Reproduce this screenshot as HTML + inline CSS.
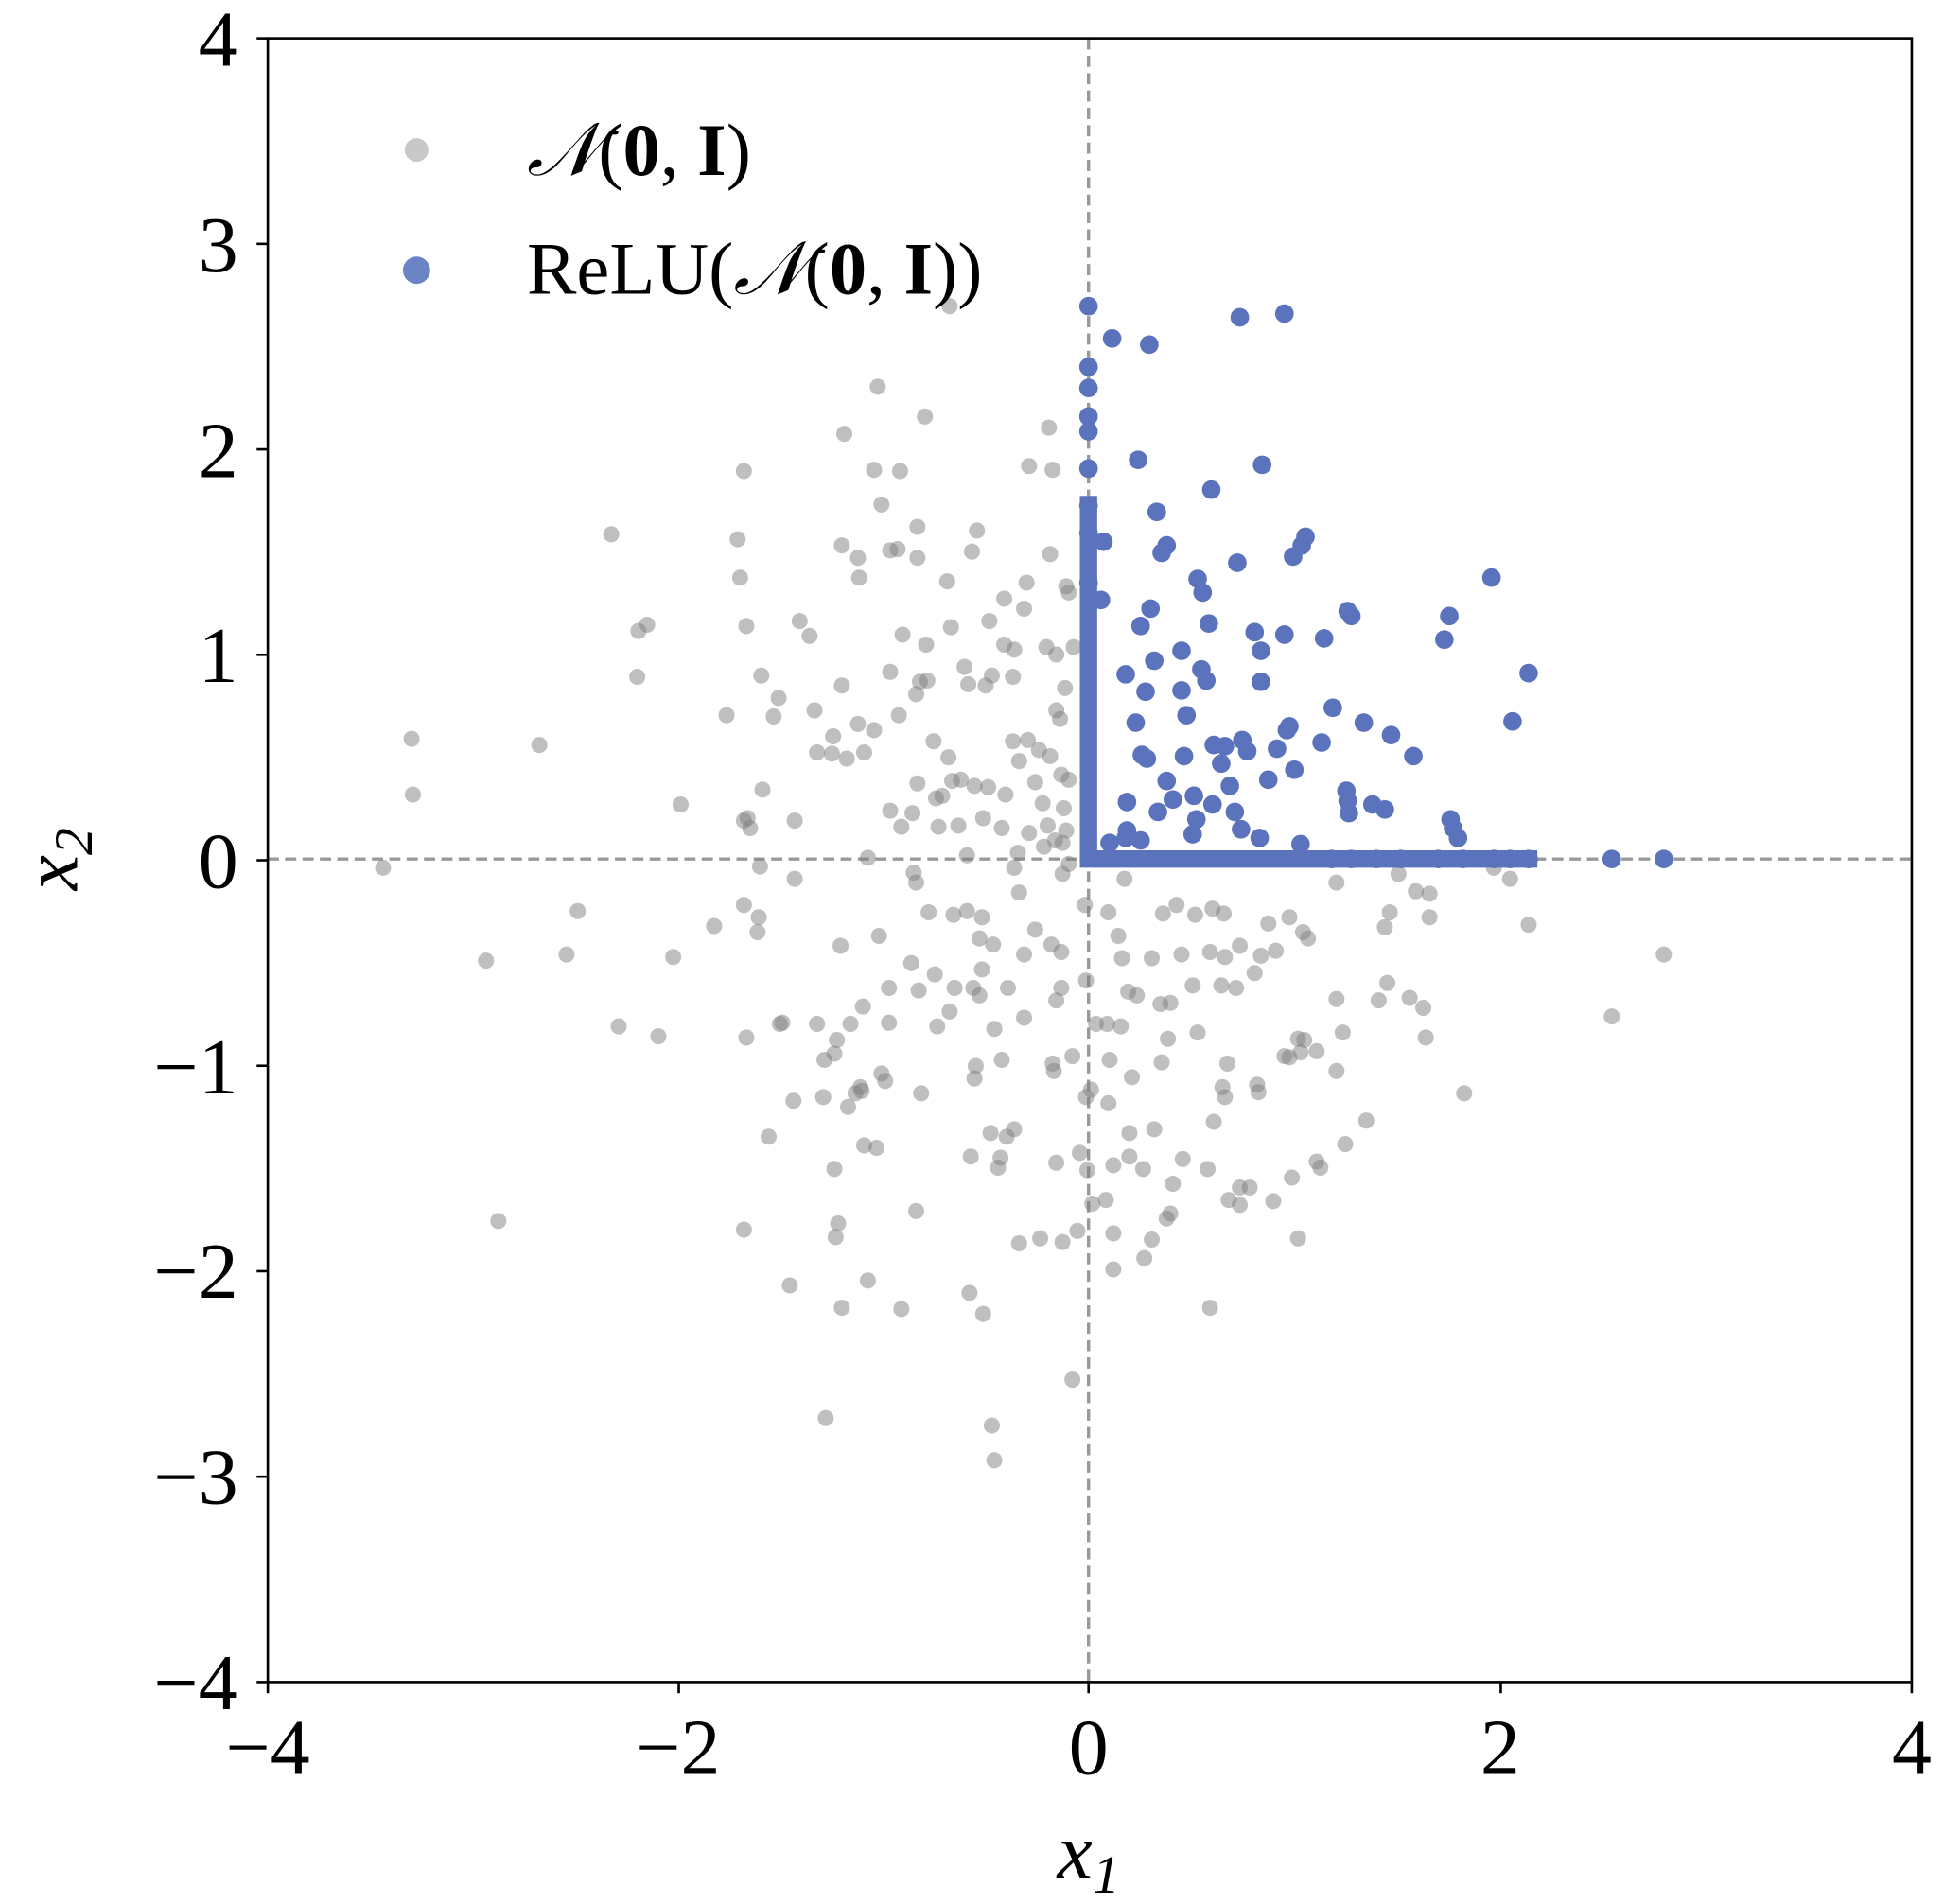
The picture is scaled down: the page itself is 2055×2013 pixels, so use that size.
<!DOCTYPE html>
<html><head><meta charset="utf-8"><style>html,body{margin:0;padding:0;background:#fff}svg{display:block}</style></head>
<body>
<svg width="2055" height="2013" viewBox="0 0 1568 1536" preserveAspectRatio="none" xmlns="http://www.w3.org/2000/svg" font-family="'Liberation Serif',serif">
<rect width="1568" height="1536" fill="#fff"/>
<line x1="878" y1="31" x2="878" y2="1357" stroke="#999" stroke-width="2.6" stroke-dasharray="9,5"/>
<line x1="216" y1="693" x2="1542" y2="693" stroke="#999" stroke-width="2.6" stroke-dasharray="9,5"/>
<g fill="#808080" fill-opacity="0.5">
<circle cx="766" cy="247" r="6.5"/><circle cx="708" cy="312" r="6.5"/><circle cx="746" cy="336" r="6.5"/><circle cx="681" cy="350" r="6.5"/><circle cx="846" cy="345" r="6.5"/><circle cx="726" cy="380" r="6.5"/><circle cx="705" cy="379" r="6.5"/><circle cx="600" cy="380" r="6.5"/><circle cx="830" cy="376" r="6.5"/><circle cx="849" cy="379" r="6.5"/><circle cx="493" cy="431" r="6.5"/><circle cx="711" cy="407" r="6.5"/><circle cx="740" cy="425" r="6.5"/><circle cx="595" cy="435" r="6.5"/><circle cx="679" cy="440" r="6.5"/><circle cx="718" cy="444" r="6.5"/><circle cx="724" cy="443" r="6.5"/><circle cx="788" cy="428" r="6.5"/><circle cx="784" cy="445" r="6.5"/><circle cx="692" cy="450" r="6.5"/><circle cx="740" cy="450" r="6.5"/><circle cx="847" cy="447" r="6.5"/><circle cx="597" cy="466" r="6.5"/><circle cx="764" cy="469" r="6.5"/><circle cx="693" cy="466" r="6.5"/><circle cx="860" cy="473" r="6.5"/><circle cx="862" cy="478" r="6.5"/><circle cx="828" cy="470" r="6.5"/><circle cx="810" cy="483" r="6.5"/><circle cx="826" cy="491" r="6.5"/><circle cx="645" cy="501" r="6.5"/><circle cx="653" cy="513" r="6.5"/><circle cx="522" cy="504" r="6.5"/><circle cx="515" cy="509" r="6.5"/><circle cx="602" cy="505" r="6.5"/><circle cx="767" cy="506" r="6.5"/><circle cx="798" cy="501" r="6.5"/><circle cx="728" cy="512" r="6.5"/><circle cx="844" cy="522" r="6.5"/><circle cx="866" cy="522" r="6.5"/><circle cx="810" cy="520" r="6.5"/><circle cx="818" cy="524" r="6.5"/><circle cx="747" cy="520" r="6.5"/><circle cx="852" cy="528" r="6.5"/><circle cx="778" cy="538" r="6.5"/><circle cx="748" cy="549" r="6.5"/><circle cx="817" cy="546" r="6.5"/><circle cx="800" cy="545" r="6.5"/><circle cx="679" cy="553" r="6.5"/><circle cx="718" cy="542" r="6.5"/><circle cx="514" cy="546" r="6.5"/><circle cx="614" cy="545" r="6.5"/><circle cx="628" cy="563" r="6.5"/><circle cx="742" cy="550" r="6.5"/><circle cx="739" cy="560" r="6.5"/><circle cx="859" cy="555" r="6.5"/><circle cx="795" cy="553" r="6.5"/><circle cx="781" cy="552" r="6.5"/><circle cx="624" cy="578" r="6.5"/><circle cx="586" cy="577" r="6.5"/><circle cx="657" cy="573" r="6.5"/><circle cx="692" cy="584" r="6.5"/><circle cx="705" cy="589" r="6.5"/><circle cx="725" cy="577" r="6.5"/><circle cx="852" cy="573" r="6.5"/><circle cx="855" cy="580" r="6.5"/><circle cx="332" cy="596" r="6.5"/><circle cx="435" cy="601" r="6.5"/><circle cx="672" cy="594" r="6.5"/><circle cx="753" cy="598" r="6.5"/><circle cx="765" cy="611" r="6.5"/><circle cx="829" cy="597" r="6.5"/><circle cx="817" cy="598" r="6.5"/><circle cx="697" cy="607" r="6.5"/><circle cx="822" cy="614" r="6.5"/><circle cx="838" cy="605" r="6.5"/><circle cx="847" cy="610" r="6.5"/><circle cx="659" cy="607" r="6.5"/><circle cx="671" cy="608" r="6.5"/><circle cx="683" cy="612" r="6.5"/><circle cx="856" cy="625" r="6.5"/><circle cx="862" cy="629" r="6.5"/><circle cx="768" cy="630" r="6.5"/><circle cx="775" cy="629" r="6.5"/><circle cx="786" cy="634" r="6.5"/><circle cx="760" cy="642" r="6.5"/><circle cx="797" cy="635" r="6.5"/><circle cx="811" cy="641" r="6.5"/><circle cx="835" cy="631" r="6.5"/><circle cx="333" cy="641" r="6.5"/><circle cx="615" cy="637" r="6.5"/><circle cx="740" cy="632" r="6.5"/><circle cx="755" cy="644" r="6.5"/><circle cx="736" cy="656" r="6.5"/><circle cx="841" cy="648" r="6.5"/><circle cx="858" cy="652" r="6.5"/><circle cx="549" cy="649" r="6.5"/><circle cx="641" cy="662" r="6.5"/><circle cx="603" cy="660" r="6.5"/><circle cx="605" cy="668" r="6.5"/><circle cx="600" cy="662" r="6.5"/><circle cx="718" cy="654" r="6.5"/><circle cx="727" cy="667" r="6.5"/><circle cx="757" cy="667" r="6.5"/><circle cx="773" cy="666" r="6.5"/><circle cx="793" cy="660" r="6.5"/><circle cx="808" cy="668" r="6.5"/><circle cx="845" cy="666" r="6.5"/><circle cx="860" cy="670" r="6.5"/><circle cx="857" cy="680" r="6.5"/><circle cx="842" cy="683" r="6.5"/><circle cx="851" cy="678" r="6.5"/><circle cx="830" cy="672" r="6.5"/><circle cx="780" cy="690" r="6.5"/><circle cx="821" cy="688" r="6.5"/><circle cx="700" cy="692" r="6.5"/><circle cx="309" cy="700" r="6.5"/><circle cx="613" cy="699" r="6.5"/><circle cx="641" cy="709" r="6.5"/><circle cx="737" cy="704" r="6.5"/><circle cx="739" cy="712" r="6.5"/><circle cx="818" cy="700" r="6.5"/><circle cx="862" cy="697" r="6.5"/><circle cx="1205" cy="700" r="6.5"/><circle cx="1218" cy="709" r="6.5"/><circle cx="1078" cy="712" r="6.5"/><circle cx="1128" cy="705" r="6.5"/><circle cx="1142" cy="719" r="6.5"/><circle cx="1153" cy="721" r="6.5"/><circle cx="907" cy="709" r="6.5"/><circle cx="857" cy="705" r="6.5"/><circle cx="466" cy="735" r="6.5"/><circle cx="600" cy="730" r="6.5"/><circle cx="612" cy="740" r="6.5"/><circle cx="576" cy="747" r="6.5"/><circle cx="611" cy="752" r="6.5"/><circle cx="780" cy="735" r="6.5"/><circle cx="792" cy="740" r="6.5"/><circle cx="790" cy="757" r="6.5"/><circle cx="769" cy="738" r="6.5"/><circle cx="749" cy="736" r="6.5"/><circle cx="822" cy="720" r="6.5"/><circle cx="875" cy="730" r="6.5"/><circle cx="894" cy="736" r="6.5"/><circle cx="938" cy="737" r="6.5"/><circle cx="978" cy="733" r="6.5"/><circle cx="987" cy="737" r="6.5"/><circle cx="949" cy="730" r="6.5"/><circle cx="964" cy="738" r="6.5"/><circle cx="1040" cy="740" r="6.5"/><circle cx="1051" cy="752" r="6.5"/><circle cx="1055" cy="757" r="6.5"/><circle cx="1023" cy="745" r="6.5"/><circle cx="1117" cy="748" r="6.5"/><circle cx="1121" cy="736" r="6.5"/><circle cx="1153" cy="740" r="6.5"/><circle cx="1233" cy="746" r="6.5"/><circle cx="457" cy="770" r="6.5"/><circle cx="392" cy="775" r="6.5"/><circle cx="543" cy="772" r="6.5"/><circle cx="678" cy="763" r="6.5"/><circle cx="709" cy="755" r="6.5"/><circle cx="801" cy="762" r="6.5"/><circle cx="826" cy="770" r="6.5"/><circle cx="848" cy="762" r="6.5"/><circle cx="856" cy="768" r="6.5"/><circle cx="835" cy="750" r="6.5"/><circle cx="902" cy="755" r="6.5"/><circle cx="905" cy="773" r="6.5"/><circle cx="929" cy="773" r="6.5"/><circle cx="953" cy="770" r="6.5"/><circle cx="976" cy="768" r="6.5"/><circle cx="988" cy="772" r="6.5"/><circle cx="1029" cy="767" r="6.5"/><circle cx="1017" cy="771" r="6.5"/><circle cx="1000" cy="763" r="6.5"/><circle cx="1342" cy="770" r="6.5"/><circle cx="735" cy="777" r="6.5"/><circle cx="754" cy="786" r="6.5"/><circle cx="792" cy="782" r="6.5"/><circle cx="770" cy="797" r="6.5"/><circle cx="741" cy="799" r="6.5"/><circle cx="717" cy="797" r="6.5"/><circle cx="785" cy="797" r="6.5"/><circle cx="790" cy="803" r="6.5"/><circle cx="813" cy="797" r="6.5"/><circle cx="856" cy="797" r="6.5"/><circle cx="852" cy="807" r="6.5"/><circle cx="876" cy="791" r="6.5"/><circle cx="910" cy="800" r="6.5"/><circle cx="917" cy="803" r="6.5"/><circle cx="936" cy="810" r="6.5"/><circle cx="944" cy="809" r="6.5"/><circle cx="962" cy="795" r="6.5"/><circle cx="985" cy="795" r="6.5"/><circle cx="997" cy="797" r="6.5"/><circle cx="1012" cy="785" r="6.5"/><circle cx="1078" cy="806" r="6.5"/><circle cx="1112" cy="807" r="6.5"/><circle cx="1137" cy="805" r="6.5"/><circle cx="1119" cy="793" r="6.5"/><circle cx="499" cy="828" r="6.5"/><circle cx="631" cy="825" r="6.5"/><circle cx="659" cy="826" r="6.5"/><circle cx="696" cy="812" r="6.5"/><circle cx="686" cy="826" r="6.5"/><circle cx="717" cy="825" r="6.5"/><circle cx="756" cy="828" r="6.5"/><circle cx="766" cy="816" r="6.5"/><circle cx="826" cy="821" r="6.5"/><circle cx="884" cy="826" r="6.5"/><circle cx="893" cy="826" r="6.5"/><circle cx="904" cy="828" r="6.5"/><circle cx="942" cy="838" r="6.5"/><circle cx="966" cy="833" r="6.5"/><circle cx="1083" cy="833" r="6.5"/><circle cx="1300" cy="820" r="6.5"/><circle cx="1148" cy="813" r="6.5"/><circle cx="1150" cy="837" r="6.5"/><circle cx="531" cy="836" r="6.5"/><circle cx="602" cy="837" r="6.5"/><circle cx="629" cy="826" r="6.5"/><circle cx="675" cy="839" r="6.5"/><circle cx="673" cy="850" r="6.5"/><circle cx="665" cy="855" r="6.5"/><circle cx="802" cy="830" r="6.5"/><circle cx="849" cy="858" r="6.5"/><circle cx="850" cy="864" r="6.5"/><circle cx="808" cy="855" r="6.5"/><circle cx="787" cy="860" r="6.5"/><circle cx="865" cy="852" r="6.5"/><circle cx="895" cy="855" r="6.5"/><circle cx="913" cy="869" r="6.5"/><circle cx="990" cy="858" r="6.5"/><circle cx="937" cy="857" r="6.5"/><circle cx="1052" cy="839" r="6.5"/><circle cx="1049" cy="849" r="6.5"/><circle cx="1036" cy="852" r="6.5"/><circle cx="1062" cy="848" r="6.5"/><circle cx="1040" cy="853" r="6.5"/><circle cx="1078" cy="864" r="6.5"/><circle cx="711" cy="866" r="6.5"/><circle cx="714" cy="872" r="6.5"/><circle cx="694" cy="877" r="6.5"/><circle cx="786" cy="870" r="6.5"/><circle cx="695" cy="880" r="6.5"/><circle cx="690" cy="882" r="6.5"/><circle cx="684" cy="893" r="6.5"/><circle cx="664" cy="885" r="6.5"/><circle cx="640" cy="888" r="6.5"/><circle cx="743" cy="882" r="6.5"/><circle cx="876" cy="885" r="6.5"/><circle cx="880" cy="879" r="6.5"/><circle cx="986" cy="877" r="6.5"/><circle cx="988" cy="885" r="6.5"/><circle cx="894" cy="890" r="6.5"/><circle cx="1014" cy="875" r="6.5"/><circle cx="1015" cy="881" r="6.5"/><circle cx="1181" cy="882" r="6.5"/><circle cx="1102" cy="904" r="6.5"/><circle cx="979" cy="905" r="6.5"/><circle cx="931" cy="911" r="6.5"/><circle cx="911" cy="914" r="6.5"/><circle cx="799" cy="914" r="6.5"/><circle cx="812" cy="917" r="6.5"/><circle cx="818" cy="911" r="6.5"/><circle cx="707" cy="926" r="6.5"/><circle cx="697" cy="924" r="6.5"/><circle cx="783" cy="933" r="6.5"/><circle cx="620" cy="917" r="6.5"/><circle cx="871" cy="930" r="6.5"/><circle cx="852" cy="938" r="6.5"/><circle cx="1062" cy="937" r="6.5"/><circle cx="1065" cy="942" r="6.5"/><circle cx="1085" cy="923" r="6.5"/><circle cx="911" cy="933" r="6.5"/><circle cx="954" cy="935" r="6.5"/><circle cx="974" cy="943" r="6.5"/><circle cx="898" cy="940" r="6.5"/><circle cx="922" cy="943" r="6.5"/><circle cx="877" cy="944" r="6.5"/><circle cx="807" cy="934" r="6.5"/><circle cx="805" cy="942" r="6.5"/><circle cx="673" cy="943" r="6.5"/><circle cx="946" cy="955" r="6.5"/><circle cx="1000" cy="958" r="6.5"/><circle cx="1008" cy="958" r="6.5"/><circle cx="881" cy="971" r="6.5"/><circle cx="892" cy="968" r="6.5"/><circle cx="869" cy="993" r="6.5"/><circle cx="839" cy="999" r="6.5"/><circle cx="857" cy="1002" r="6.5"/><circle cx="898" cy="995" r="6.5"/><circle cx="898" cy="1024" r="6.5"/><circle cx="923" cy="1015" r="6.5"/><circle cx="929" cy="1000" r="6.5"/><circle cx="941" cy="983" r="6.5"/><circle cx="944" cy="979" r="6.5"/><circle cx="1047" cy="999" r="6.5"/><circle cx="822" cy="1003" r="6.5"/><circle cx="739" cy="977" r="6.5"/><circle cx="676" cy="987" r="6.5"/><circle cx="674" cy="998" r="6.5"/><circle cx="600" cy="992" r="6.5"/><circle cx="402" cy="985" r="6.5"/><circle cx="637" cy="1037" r="6.5"/><circle cx="700" cy="1033" r="6.5"/><circle cx="679" cy="1055" r="6.5"/><circle cx="727" cy="1056" r="6.5"/><circle cx="782" cy="1043" r="6.5"/><circle cx="793" cy="1060" r="6.5"/><circle cx="976" cy="1055" r="6.5"/><circle cx="865" cy="1113" r="6.5"/><circle cx="666" cy="1144" r="6.5"/><circle cx="800" cy="1150" r="6.5"/><circle cx="802" cy="1178" r="6.5"/><circle cx="1042" cy="950" r="6.5"/><circle cx="1000" cy="972" r="6.5"/><circle cx="991" cy="968" r="6.5"/><circle cx="1027" cy="969" r="6.5"/><circle cx="1047" cy="838" r="6.5"/>
</g>
<g fill="#5b72bd">
<path d="M871 400 L885 400 L885 686 L1240 686 L1240 700 L871 700 Z"/>
<circle cx="878" cy="247" r="7.5"/><circle cx="897" cy="273" r="7.5"/><circle cx="927" cy="278" r="7.5"/><circle cx="1000" cy="256" r="7.5"/><circle cx="1036" cy="253" r="7.5"/><circle cx="878" cy="296" r="7.5"/><circle cx="878" cy="313" r="7.5"/><circle cx="878" cy="336" r="7.5"/><circle cx="878" cy="348" r="7.5"/><circle cx="878" cy="378" r="7.5"/><circle cx="878" cy="408" r="7.5"/><circle cx="878" cy="430" r="7.5"/><circle cx="918" cy="371" r="7.5"/><circle cx="977" cy="395" r="7.5"/><circle cx="1018" cy="375" r="7.5"/><circle cx="933" cy="413" r="7.5"/><circle cx="890" cy="437" r="7.5"/><circle cx="941" cy="440" r="7.5"/><circle cx="937" cy="446" r="7.5"/><circle cx="1053" cy="433" r="7.5"/><circle cx="1050" cy="440" r="7.5"/><circle cx="1043" cy="449" r="7.5"/><circle cx="998" cy="454" r="7.5"/><circle cx="966" cy="467" r="7.5"/><circle cx="970" cy="478" r="7.5"/><circle cx="1203" cy="466" r="7.5"/><circle cx="878" cy="470" r="7.5"/><circle cx="888" cy="484" r="7.5"/><circle cx="928" cy="491" r="7.5"/><circle cx="975" cy="503" r="7.5"/><circle cx="920" cy="505" r="7.5"/><circle cx="1012" cy="510" r="7.5"/><circle cx="1087" cy="493" r="7.5"/><circle cx="1090" cy="497" r="7.5"/><circle cx="1169" cy="497" r="7.5"/><circle cx="1036" cy="512" r="7.5"/><circle cx="1068" cy="515" r="7.5"/><circle cx="1165" cy="516" r="7.5"/><circle cx="1017" cy="525" r="7.5"/><circle cx="953" cy="525" r="7.5"/><circle cx="931" cy="533" r="7.5"/><circle cx="1233" cy="543" r="7.5"/><circle cx="908" cy="544" r="7.5"/><circle cx="969" cy="540" r="7.5"/><circle cx="973" cy="549" r="7.5"/><circle cx="1017" cy="550" r="7.5"/><circle cx="924" cy="558" r="7.5"/><circle cx="953" cy="557" r="7.5"/><circle cx="1075" cy="571" r="7.5"/><circle cx="916" cy="583" r="7.5"/><circle cx="957" cy="577" r="7.5"/><circle cx="1220" cy="582" r="7.5"/><circle cx="1040" cy="586" r="7.5"/><circle cx="1100" cy="583" r="7.5"/><circle cx="1038" cy="589" r="7.5"/><circle cx="1002" cy="597" r="7.5"/><circle cx="979" cy="601" r="7.5"/><circle cx="988" cy="602" r="7.5"/><circle cx="955" cy="610" r="7.5"/><circle cx="1030" cy="604" r="7.5"/><circle cx="1066" cy="599" r="7.5"/><circle cx="1122" cy="593" r="7.5"/><circle cx="1140" cy="610" r="7.5"/><circle cx="1006" cy="606" r="7.5"/><circle cx="921" cy="609" r="7.5"/><circle cx="925" cy="612" r="7.5"/><circle cx="985" cy="616" r="7.5"/><circle cx="1044" cy="621" r="7.5"/><circle cx="1023" cy="629" r="7.5"/><circle cx="992" cy="634" r="7.5"/><circle cx="941" cy="630" r="7.5"/><circle cx="946" cy="645" r="7.5"/><circle cx="1086" cy="638" r="7.5"/><circle cx="1087" cy="646" r="7.5"/><circle cx="1107" cy="649" r="7.5"/><circle cx="1117" cy="653" r="7.5"/><circle cx="909" cy="647" r="7.5"/><circle cx="963" cy="642" r="7.5"/><circle cx="978" cy="649" r="7.5"/><circle cx="934" cy="655" r="7.5"/><circle cx="1088" cy="656" r="7.5"/><circle cx="1170" cy="661" r="7.5"/><circle cx="1172" cy="668" r="7.5"/><circle cx="1176" cy="676" r="7.5"/><circle cx="996" cy="655" r="7.5"/><circle cx="1001" cy="669" r="7.5"/><circle cx="965" cy="661" r="7.5"/><circle cx="909" cy="670" r="7.5"/><circle cx="1016" cy="676" r="7.5"/><circle cx="962" cy="673" r="7.5"/><circle cx="895" cy="680" r="7.5"/><circle cx="908" cy="676" r="7.5"/><circle cx="1049" cy="681" r="7.5"/><circle cx="920" cy="678" r="7.5"/>
<circle cx="1074" cy="693" r="7.5"/><circle cx="1090" cy="693" r="7.5"/><circle cx="1110" cy="693" r="7.5"/><circle cx="1130" cy="693" r="7.5"/><circle cx="1160" cy="693" r="7.5"/><circle cx="1180" cy="693" r="7.5"/><circle cx="1205" cy="693" r="7.5"/><circle cx="1218" cy="693" r="7.5"/><circle cx="1233" cy="693" r="7.5"/><circle cx="1300" cy="693" r="7.5"/><circle cx="1342" cy="693" r="7.5"/>
</g>
<rect x="216" y="31" width="1326" height="1326" fill="none" stroke="#000" stroke-width="2"/>
<g stroke="#000" stroke-width="2">
<line x1="216" y1="1357" x2="216" y2="1366"/><line x1="547.5" y1="1357" x2="547.5" y2="1366"/><line x1="878" y1="1357" x2="878" y2="1366"/><line x1="1210.5" y1="1357" x2="1210.5" y2="1366"/><line x1="1542" y1="1357" x2="1542" y2="1366"/>
<line x1="207" y1="31" x2="216" y2="31"/><line x1="207" y1="196.75" x2="216" y2="196.75"/><line x1="207" y1="362.5" x2="216" y2="362.5"/><line x1="207" y1="528.25" x2="216" y2="528.25"/><line x1="207" y1="694" x2="216" y2="694"/><line x1="207" y1="859.75" x2="216" y2="859.75"/><line x1="207" y1="1025.5" x2="216" y2="1025.5"/><line x1="207" y1="1191.25" x2="216" y2="1191.25"/><line x1="207" y1="1357" x2="216" y2="1357"/>
</g>
<g font-size="64" fill="#000" text-anchor="middle">
<text x="216" y="1431">−4</text><text x="547" y="1431">−2</text><text x="878" y="1431">0</text><text x="1210" y="1431">2</text><text x="1542" y="1431">4</text>
</g>
<g font-size="64" fill="#000" text-anchor="end">
<text x="192" y="53">4</text><text x="192" y="219">3</text><text x="192" y="385">2</text><text x="192" y="550">1</text><text x="192" y="716">0</text><text x="192" y="882">−1</text><text x="192" y="1047">−2</text><text x="192" y="1213">−3</text><text x="192" y="1379">−4</text>
</g>
<text x="878" y="1515" font-size="64" font-style="italic" text-anchor="middle">x<tspan font-size="44" dy="12">1</tspan></text>
<text transform="translate(62,693) rotate(-90)" font-size="64" font-style="italic" text-anchor="middle">x<tspan font-size="44" dy="12">2</tspan></text>
<circle cx="336" cy="121" r="9.5" fill="#c8c8c8"/>
<circle cx="336" cy="218" r="11" fill="#6a84c6"/>
<text x="425" y="141" font-size="60"><tspan font-style="italic">𝒩</tspan>(<tspan font-weight="bold">0</tspan>, <tspan font-weight="bold">I</tspan>)</text>
<text x="425" y="237" font-size="60">ReLU(<tspan font-style="italic">𝒩</tspan>(<tspan font-weight="bold">0</tspan>, <tspan font-weight="bold">I</tspan>))</text>
</svg>
</body></html>
